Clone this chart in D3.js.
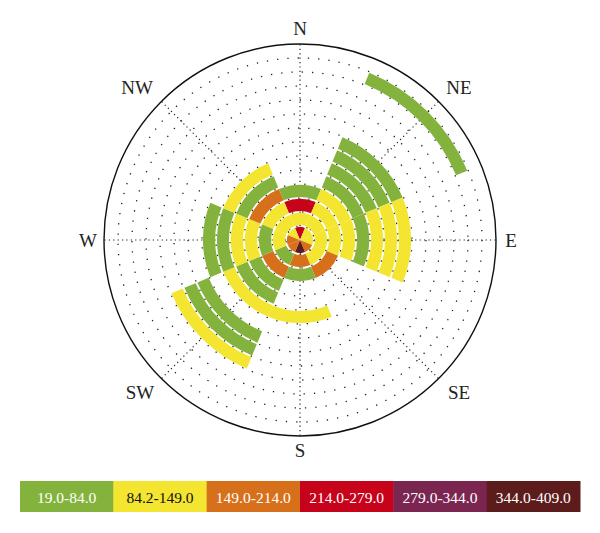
<!DOCTYPE html>
<html>
<head>
<meta charset="utf-8">
<script src="https://cdn.jsdelivr.net/npm/d3@7/dist/d3.min.js"></script>
<style>
html,body{margin:0;padding:0;background:#fff;}
svg{display:block;}
</style>
</head>
<body>
<svg id="chart" width="600" height="533"></svg>
<script>
// Directions (sectors) and ring values (ring 1 = centre outwards), null = no data
const directions = ["N","NE","E","SE","S","SW","W","NW"];
const valN  = [245, 120, 245, 50];
const valNE = [120, 120, 120, 120, 50, 50, 50, 50, null, null, null, null, 50];
const valE  = [120, 120, 120, 120, 50, 120, 120, 120];
const valSE = [180, 120, 180];
const valS  = [380, 180, 50, null, null, 120];
const valSW = [180, 50, 180, 50, 50, 120, null, 50, 50, 120];
const valW  = [180, 120, 50, 120, 120, 50, 50];
const valNW = [120, 120, 120, 180, 50, 120];
const seriesByDir = [valN, valNE, valE, valSE, valS, valSW, valW, valNW];

const classLabels = ["19.0-84.0","84.2-149.0","149.0-214.0","214.0-279.0","279.0-344.0","344.0-409.0"];
const classBreaks = [84.1, 149, 214, 279, 344];
const classColors = ["#84b33d","#f3e530","#d7701b","#c7021b","#7b2651","#5d1c1c"];
const classTextColors = ["#fff","#111","#fff","#fff","#fff","#fff"];
const nRings = 14;

const svg = d3.select("#chart");
const cx = 300, cy = 240, R = 196;
const g = svg.append("g").attr("transform", `translate(${cx},${cy})`);

const rScale = d3.scaleLinear().domain([0, nRings]).range([0, R]);
const aScale = d3.scaleBand().domain(directions).range([-Math.PI/8, 2*Math.PI - Math.PI/8]);
const color = d3.scaleThreshold().domain(classBreaks).range(classColors);

// dotted grid circles
const gridRings = d3.range(1, nRings);
g.selectAll("circle.grid").data(gridRings).join("circle")
  .attr("class","grid")
  .attr("r", d => rScale(d))
  .attr("fill","none")
  .attr("stroke","#222")
  .attr("stroke-width",1.3)
  .attr("stroke-dasharray","1.3,9");

// dotted radial lines
const gridAngles = d3.range(8).map(i => i * Math.PI / 4);
g.selectAll("line.grid").data(gridAngles).join("line")
  .attr("class","grid")
  .attr("x1", d => Math.sin(d) * rScale(1))
  .attr("y1", d => -Math.cos(d) * rScale(1))
  .attr("x2", d => Math.sin(d) * R)
  .attr("y2", d => -Math.cos(d) * R)
  .attr("stroke","#222")
  .attr("stroke-width",1.2)
  .attr("stroke-dasharray","1.2,3.2");

// cells
const cells = [];
directions.forEach((dir, di) => {
  seriesByDir[di].forEach((v, ri) => {
    if (v !== null) cells.push({dir, ring: ri, value: v});
  });
});
const gap = 0.9;
const arc = d3.arc()
  .innerRadius(d => d.ring === 0 ? 0 : rScale(d.ring) + gap)
  .outerRadius(d => rScale(d.ring + 1) - gap)
  .startAngle(d => aScale(d.dir))
  .endAngle(d => aScale(d.dir) + aScale.bandwidth());
g.selectAll("path.cell").data(cells).join("path")
  .attr("class","cell")
  .attr("d", arc)
  .attr("fill", d => color(d.value));

// outer circle
g.append("circle").attr("r", R).attr("fill","none").attr("stroke","#111").attr("stroke-width",1.4);

// direction labels (offsets from centre)
const labelDx = [0, 159, 211, 159, 0, -160, -212, -163];
const labelDy = [-212, -153, 0, 152, 210, 152, 0, -153];
g.selectAll("text.dir").data(directions).join("text")
  .attr("class","dir")
  .attr("x", (d,i) => labelDx[i])
  .attr("y", (d,i) => labelDy[i])
  .attr("text-anchor","middle")
  .attr("dominant-baseline","central")
  .attr("font-family","'Liberation Serif', 'DejaVu Serif', serif")
  .attr("font-size",19)
  .attr("fill","#222")
  .text(d => d);

// legend
const lx = d3.scaleBand().domain(classLabels).range([20, 580]);
const lg = svg.append("g");
lg.selectAll("rect").data(classLabels).join("rect")
  .attr("x", d => lx(d)).attr("y", 481)
  .attr("width", lx.bandwidth() + 0.5).attr("height", 31)
  .attr("fill", (d,i) => classColors[i]);
lg.selectAll("text").data(classLabels).join("text")
  .attr("x", d => lx(d) + lx.bandwidth()/2).attr("y", 497)
  .attr("text-anchor","middle")
  .attr("dominant-baseline","central")
  .attr("font-family","'Liberation Serif', 'DejaVu Serif', serif")
  .attr("font-size",15.5)
  .attr("fill", (d,i) => classTextColors[i])
  .text(d => d);
</script>
</body>
</html>
